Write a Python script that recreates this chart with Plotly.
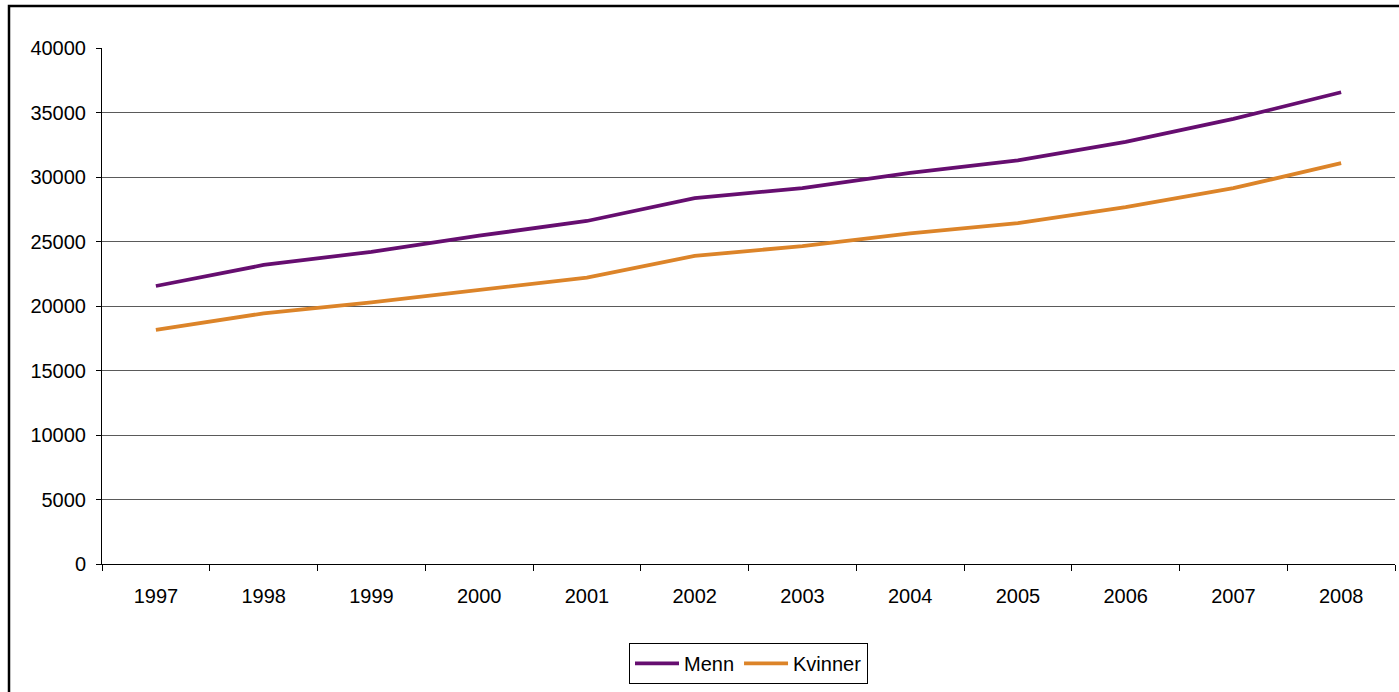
import plotly.graph_objects as go

years = ["1997", "1998", "1999", "2000", "2001", "2002", "2003", "2004", "2005", "2006", "2007", "2008"]
menn = [21550, 23180, 24200, 25450, 26590, 28370, 29130, 30320, 31290, 32730, 34500, 36570]
kvinner = [18140, 19430, 20280, 21220, 22200, 23880, 24650, 25630, 26420, 27660, 29130, 31070]
y_ticks = [0, 5000, 10000, 15000, 20000, 25000, 30000, 35000, 40000]

FONT = "Liberation Sans, Arial, sans-serif"

fig = go.Figure()
fig.add_trace(go.Scatter(x=years, y=menn, name="Menn", mode="lines",
                         line=dict(color="#660E70", width=3.8)))
fig.add_trace(go.Scatter(x=years, y=kvinner, name="Kvinner", mode="lines",
                         line=dict(color="#DC8429", width=3.8)))

fig.update_layout(
    width=1399, height=692,
    margin=dict(l=102, r=4, t=48, b=128),
    paper_bgcolor="white", plot_bgcolor="white",
    font=dict(family=FONT, size=20, color="black"),
    showlegend=True,
    legend=dict(orientation="h", x=0.5, xanchor="center", y=-0.153, yanchor="top",
                bordercolor="black", borderwidth=1, bgcolor="white",
                font=dict(family=FONT, size=20, color="black"),
                itemwidth=44, tracegroupgap=0),
    xaxis=dict(type="category", range=[-0.5, len(years) - 0.5], showgrid=False,
               showline=True, linecolor="black", linewidth=1,
               ticks="outside", tickson="boundaries", ticklen=6, tickcolor="black",
               ticklabelstandoff=14, zeroline=False, fixedrange=True),
    yaxis=dict(range=[0, 40000], tickvals=y_ticks, ticktext=[str(v) for v in y_ticks],
               showgrid=True, gridcolor="#5a5a5a", gridwidth=1,
               showline=True, linecolor="black", linewidth=1,
               ticks="outside", ticklen=5, tickcolor="black",
               ticklabelstandoff=6, zeroline=False, fixedrange=True),
    shapes=[dict(type="rect", xref="paper", yref="paper",
                 x0=(9 - 102) / 1293, x1=1.05, y0=-0.5, y1=(564 - 6) / 516,
                 line=dict(color="black", width=2.5), fillcolor="rgba(0,0,0,0)", layer="above")],
)

fig.write_html("out.html", config={"displayModeBar": False},
               post_script="document.body.style.margin='0';document.body.style.overflow='hidden';")
